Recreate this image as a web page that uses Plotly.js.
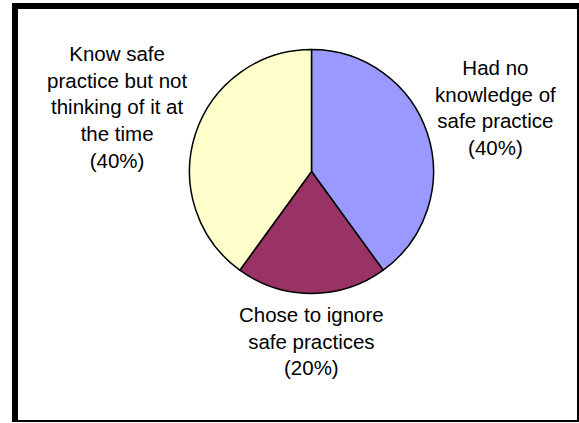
<!DOCTYPE html>
<html>
<head>
<meta charset="utf-8">
<script src="https://cdn.plot.ly/plotly-3.0.1.min.js"></script>
<style>html,body{margin:0;padding:0;background:#fff;}#chart{width:579px;height:423px;}</style>
</head>
<body>
<div id="chart"></div>
<script>
var categories = ["Had no knowledge of safe practice", "Chose to ignore safe practices", "Know safe practice but not thinking of it at the time"];
var values = [40, 20, 40];
var colors = ["#9999FF", "#993366", "#FFFFCC"];
var labelTexts = [
  "Had no<br>knowledge of<br>safe practice<br>(40%)",
  "Chose to ignore<br>safe practices<br>(20%)",
  "Know safe<br>practice but not<br>thinking of it at<br>the time<br>(40%)"
];

var W = 579, H = 423;
function px(x){ return x / W; }
function py(y){ return 1 - y / H; }

var labelPos = [[495, 107], [311.5, 340.5], [117, 107.5]];
var font = {family: "Liberation Sans, Arial, Helvetica, sans-serif", size: 20.5, color: "#000"};

var annotations = labelTexts.map(function(t, i){
  return {text: t, xref: "paper", yref: "paper", x: px(labelPos[i][0]), y: py(labelPos[i][1]),
          xanchor: "center", yanchor: "middle", showarrow: false, align: "center", font: font};
});

function rect(x0, y0, x1, y1){
  return {type: "rect", xref: "paper", yref: "paper", x0: px(x0), x1: px(x1), y0: py(y1), y1: py(y0),
          fillcolor: "#000", line: {width: 0}, layer: "above"};
}

var data = [{
  type: "pie",
  labels: categories,
  values: values,
  sort: false,
  direction: "clockwise",
  rotation: 0,
  textinfo: "none",
  hoverinfo: "label+percent",
  marker: {colors: colors, line: {color: "#000", width: 1.5}},
  domain: {x: [px(189.5), px(433.5)], y: [py(293.5), py(49.5)]}
}];

var layout = {
  width: W, height: H,
  margin: {l: 0, r: 0, t: 0, b: 0},
  paper_bgcolor: "#fff",
  showlegend: false,
  annotations: annotations,
  shapes: [
    rect(12, 3, 579, 9),
    rect(12, 3, 18, 422),
    rect(577, 3, 579, 422),
    rect(12, 420, 579, 422)
  ]
};

Plotly.newPlot("chart", data, layout, {displayModeBar: false, staticPlot: true});
</script>
</body>
</html>
